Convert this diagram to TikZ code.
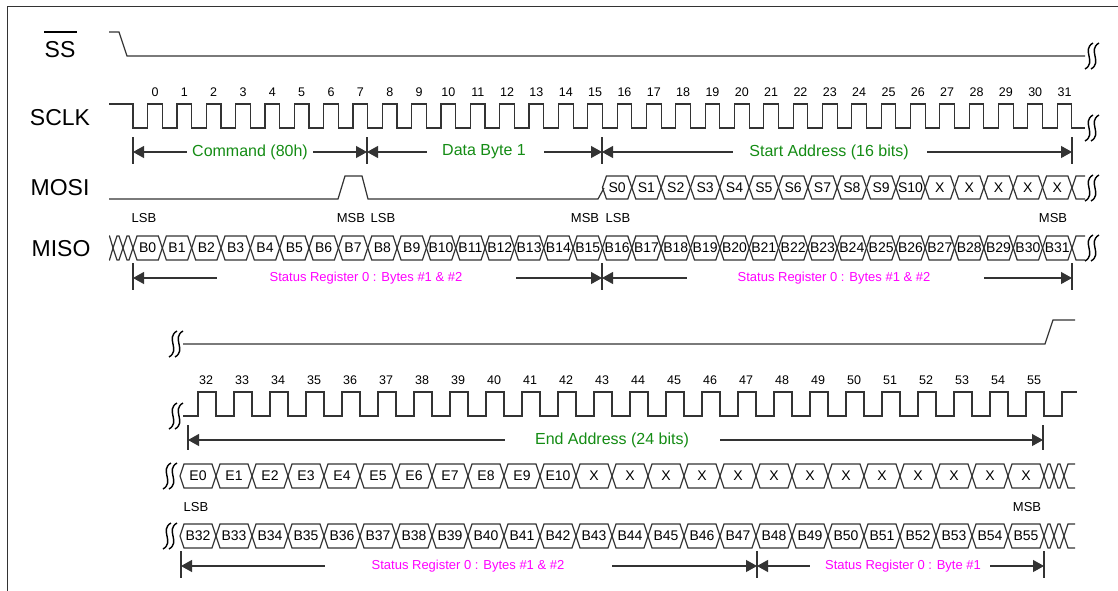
\documentclass[tikz,border=0pt]{standalone}
\usepackage{fontspec}
\setmainfont{Liberation Sans}
\usetikzlibrary{arrows.meta}
\definecolor{sgreen}{RGB}{20,140,20}
\definecolor{smag}{RGB}{255,0,255}
\newcommand\mycell[6]{% x1 x2 ytop ybot label name
  \draw[sig] (#1,{(#3+#4)/2}) -- ({#1+4},#3) -- ({#2-4},#3) -- (#2,{(#3+#4)/2}) -- ({#2-4},#4) -- ({#1+4},#4) -- cycle;
  \node[cell] (#6) at ({(#1+#2)/2},{(#3+#4)/2}) {#5};}
\newcommand\mysquig[2]{%
  \draw[black,line width=1.4pt] ({#1+4},{#2-13}) .. controls ({#1-8},{#2-6}) and ({#1+8},{#2+6}) .. ({#1-4},{#2+13});
  \draw[black,line width=1.4pt] ({#1+10},{#2-13}) .. controls ({#1-2},{#2-6}) and ({#1+14},{#2+6}) .. ({#1+2},{#2+13});}
\begin{document}
\begin{tikzpicture}[x=1pt,y=-1pt,
  sig/.style={draw=black!80, line width=1.2pt},
  tick/.style={draw=black!80, line width=1.1pt},
  dim/.style={draw=black!80, line width=1.1pt},
  tipl/.style={dim,{Triangle[length=11pt,width=12pt]}-},
  tipr/.style={dim,-{Triangle[length=11pt,width=12pt]}},
  lbl/.style={font=\fontsize{23}{26}\selectfont, inner sep=0pt},
  num/.style={font=\fontsize{12.5}{14}\selectfont, inner sep=0pt},
  cell/.style={font=\fontsize{14}{16}\selectfont, inner sep=0pt},
  sb/.style={font=\fontsize{13}{15}\selectfont, inner sep=0pt},
  gtxt/.style={text=sgreen, font=\fontsize{16}{18}\selectfont, inner sep=0pt},
  mtxt/.style={text=smag, font=\fontsize{13}{15}\selectfont, inner sep=0pt}]
\useasboundingbox (0,0) rectangle (1118,591);
\fill[white] (0,0) rectangle (1118,591);
% frame
\draw[line width=1pt, black!80] (7,591) -- (7,7) -- (1118,7);

% ---------- labels
\node[lbl] (lss) at (60,50) {SS};
\draw[line width=1.2pt, black] (44,32) -- (77,32);
\node[lbl] (lsclk) at (60,118) {SCLK};
\node[lbl] (lmosi) at (60,188) {MOSI};
\node[lbl] (lmiso) at (61,249) {MISO};

% ---------- SS top
\draw[sig] (109,32) -- (119,32) -- (127,56) -- (1085,56);
\mysquig{1089}{56}

% ---------- SCLK top
\draw[sig] (109,104) -- (133,104) -- (133,128)
  \foreach \k in {0,...,31}{ -- ({133+(\k+0.5)*29.34},128) -- ({133+(\k+0.5)*29.34},104) -- ({133+(\k+1)*29.34},104) -- ({133+(\k+1)*29.34},128)} -- (1085,128);
\mysquig{1089}{128}
\foreach \k in {0,...,31}{\node[num] (n\k) at ({133+(\k+0.75)*29.34},92) {\k};}

% ---------- top dimension arrows
\foreach \x in {133,367,602,1072}{\draw[tick] (\x,137) -- (\x,164);}
\node[gtxt] (cmd) at (250,152) {Command (80h)};
\coordinate (ca) at (133,152); \coordinate (cb) at (187,152);
\coordinate (cc) at (313,152); \coordinate (cd) at (367,152);
\draw[tipl] (ca) -- (cb); \draw[tipr] (cc) -- (cd);
\node[gtxt] (dat) at (484,152) {Data Byte 1};
\coordinate (da) at (367,152); \coordinate (db) at (427,152);
\coordinate (dc) at (544,152); \coordinate (dd) at (602,152);
\draw[tipl] (da) -- (db); \draw[tipr] (dc) -- (dd);
\node[gtxt] (sad) at (829,152) {Start Address (16 bits)};
\coordinate (sa) at (602,152); \coordinate (sb) at (733,152);
\coordinate (sc) at (927,152); \coordinate (sd) at (1072,152);
\draw[tipl] (sa) -- (sb); \draw[tipr] (sc) -- (sd);

% ---------- MOSI
\draw[sig] (109,199) -- (338,199) -- (345,176) -- (362,176) -- (368,199) -- (598,199) -- (604,188);
\foreach \k in {16,...,31}{
  \pgfmathsetmacro\xa{133+\k*29.34}
  \pgfmathsetmacro\xb{133+(\k+1)*29.34}
  \pgfmathtruncatemacro\s{\k-16}
  \mycell{\xa}{\xb}{176}{199}{\ifnum\k<27 S\s\else X\fi}{mo\k}
}
\draw[sig] (1085,176) -- (1076,176) -- (1072,188) -- (1076,199) -- (1085,199);
\mysquig{1089}{188}

% ---------- MISO
\draw[sig] (109,236) -- (109.5,236) -- (113,248) -- (109.5,260) -- (109,260);
\mycell{113}{123}{236}{260}{}{mx1}
\mycell{123}{133}{236}{260}{}{mx2}
\foreach \k in {0,...,31}{
  \pgfmathsetmacro\xa{133+\k*29.34}
  \pgfmathsetmacro\xb{133+(\k+1)*29.34}
  \mycell{\xa}{\xb}{236}{260}{B\k}{mi\k}
}
\draw[sig] (1085,236) -- (1076,236) -- (1072,248) -- (1076,260) -- (1085,260);
\mysquig{1089}{248}
\node[sb] (lsb0) at (144,218) {LSB};
\node[sb] (msb7) at (351,218) {MSB};
\node[sb] (lsb8) at (383,218) {LSB};
\node[sb] (msb15) at (585,218) {MSB};
\node[sb] (lsb16) at (618,218) {LSB};
\node[sb] (msb31) at (1053,218) {MSB};

% ---------- top status arrows
\foreach \x in {133,602,1072}{\draw[tick] (\x,263) -- (\x,290);}
\node[mtxt] (st1) at (366,278) {Status Register 0 : Bytes \#1 \& \#2};
\coordinate (pa) at (133,278); \coordinate (pb) at (217,278);
\coordinate (pc) at (516,278); \coordinate (pd) at (602,278);
\draw[tipl] (pa) -- (pb); \draw[tipr] (pc) -- (pd);
\node[mtxt] (st2) at (834,278) {Status Register 0 : Bytes \#1 \& \#2};
\coordinate (qa) at (602,278); \coordinate (qb) at (687,278);
\coordinate (qc) at (984,278); \coordinate (qd) at (1072,278);
\draw[tipl] (qa) -- (qb); \draw[tipr] (qc) -- (qd);

% ---------- SS bottom
\mysquig{173}{344}
\draw[sig] (183,344) -- (1045,344) -- (1053,320) -- (1075,320);

% ---------- SCLK bottom
\mysquig{173}{416}
\draw[sig] (183,416)
  \foreach \k in {0,...,23}{ -- ({198+\k*36},416) -- ({198+\k*36},392) -- ({216+\k*36},392) -- ({216+\k*36},416)} -- (1062,416) -- (1062,392) -- (1077,392);
\foreach \k in {32,...,55}{\node[num] (n\k) at ({180+(\k-32)*36+26},380) {\k};}

% ---------- End address
\foreach \x in {188,1043}{\draw[tick] (\x,425) -- (\x,450);}
\node[gtxt] (ead) at (612,440) {End Address (24 bits)};
\coordinate (ea) at (188,440); \coordinate (eb) at (505,440);
\coordinate (ec) at (720,440); \coordinate (ed) at (1043,440);
\draw[tipl] (ea) -- (eb); \draw[tipr] (ec) -- (ed);

% ---------- E row
\mysquig{167}{476}
\foreach \k in {32,...,55}{
  \pgfmathsetmacro\xa{180+(\k-32)*36}
  \pgfmathsetmacro\xb{180+(\k-31)*36}
  \pgfmathtruncatemacro\s{\k-32}
  \mycell{\xa}{\xb}{464}{488}{\ifnum\k<43 E\s\else X\fi}{eo\k}
}
\mycell{1044}{1054}{464}{488}{}{ex1}
\mycell{1054}{1064}{464}{488}{}{ex2}
\draw[sig] (1075,464) -- (1068,464) -- (1064,476) -- (1068,488) -- (1075,488);

\node[sb] (lsb32) at (196,507) {LSB};
\node[sb] (msb55) at (1027,507) {MSB};

% ---------- B row
\mysquig{167}{536}
\foreach \k in {32,...,55}{
  \pgfmathsetmacro\xa{180+(\k-32)*36}
  \pgfmathsetmacro\xb{180+(\k-31)*36}
  \mycell{\xa}{\xb}{524}{548}{B\k}{bo\k}
}
\mycell{1044}{1054}{524}{548}{}{bx1}
\mycell{1054}{1064}{524}{548}{}{bx2}
\draw[sig] (1075,524) -- (1068,524) -- (1064,536) -- (1068,548) -- (1075,548);

% ---------- bottom status arrows
\foreach \x in {181,757,1044}{\draw[tick] (\x,551) -- (\x,578);}
\node[mtxt] (st3) at (468,566) {Status Register 0 : Bytes \#1 \& \#2};
\coordinate (ra) at (181,566); \coordinate (rb) at (325,566);
\coordinate (rc) at (612,566); \coordinate (rd) at (757,566);
\draw[tipl] (ra) -- (rb); \draw[tipr] (rc) -- (rd);
\node[mtxt] (st4) at (903,566) {Status Register 0 : Byte \#1};
\coordinate (ua) at (757,566); \coordinate (ub) at (810,566);
\coordinate (uc) at (990,566); \coordinate (ud) at (1044,566);
\draw[tipl] (ua) -- (ub); \draw[tipr] (uc) -- (ud);
\end{tikzpicture}
\end{document}
